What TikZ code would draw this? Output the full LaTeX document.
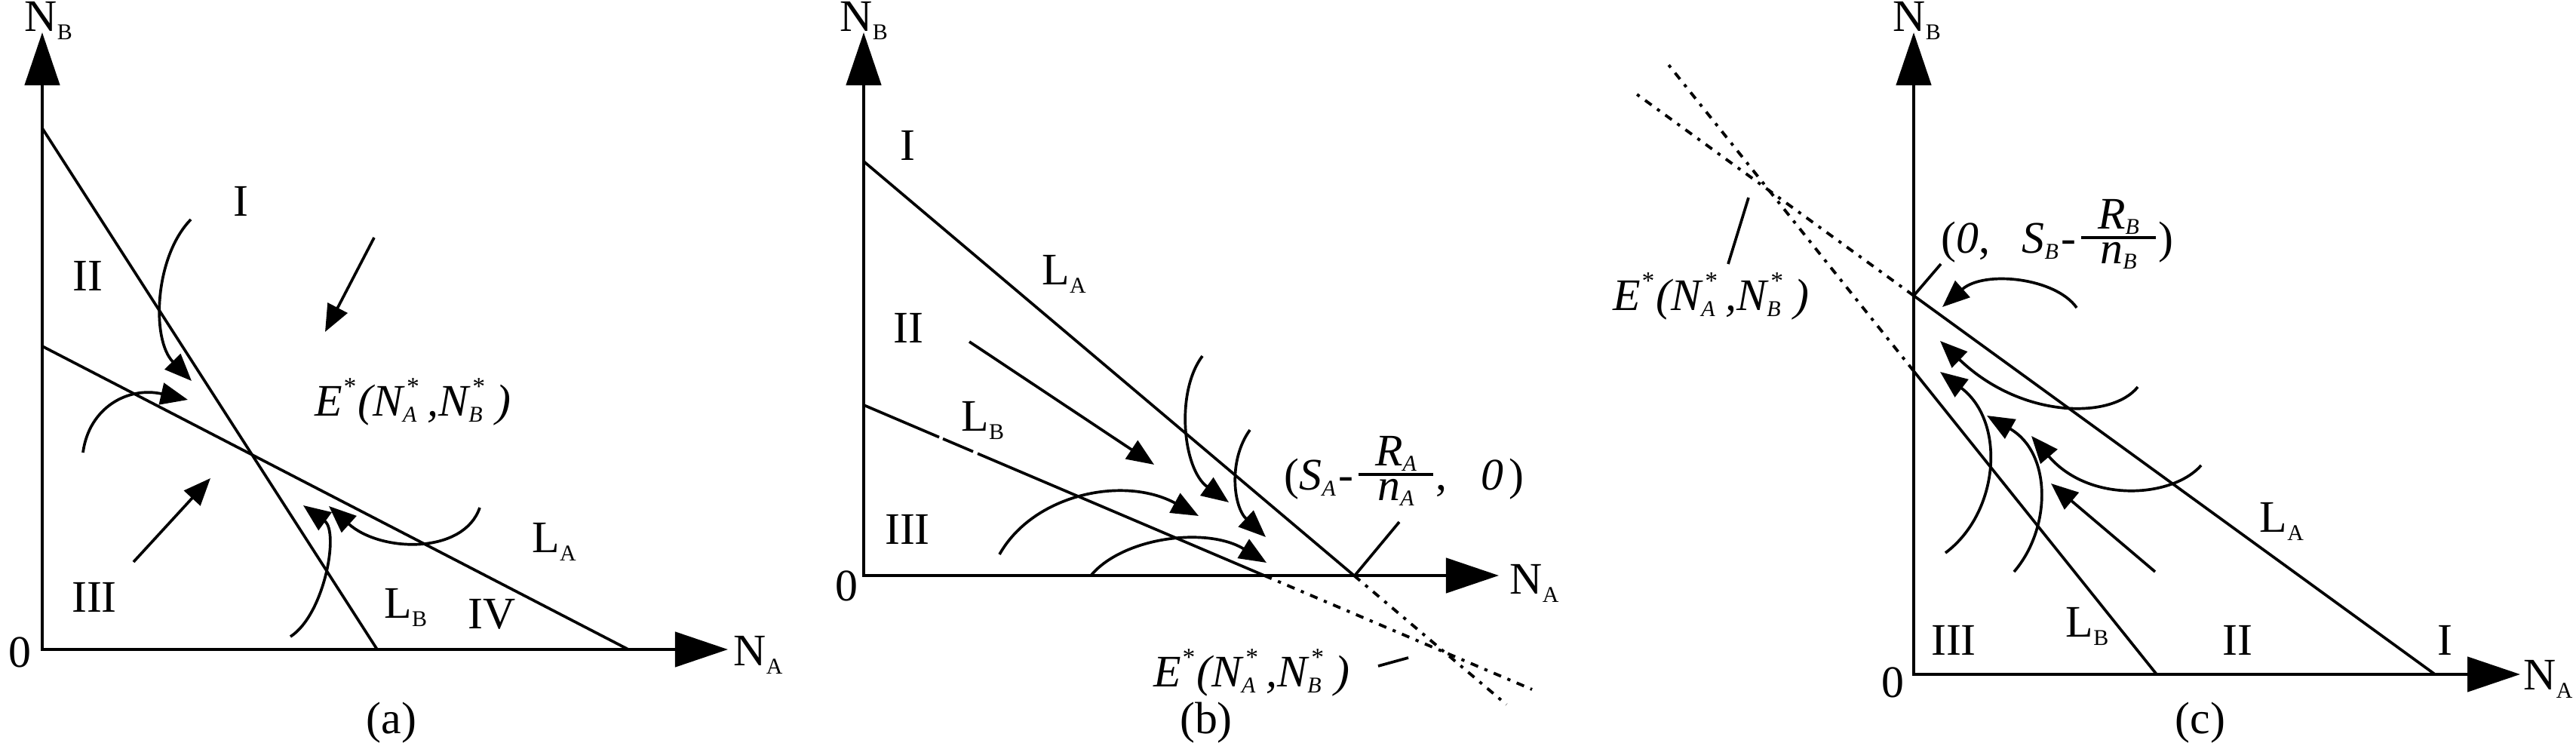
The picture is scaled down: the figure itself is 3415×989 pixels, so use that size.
\documentclass[tikz,border=0pt]{standalone}
\usepackage{fontspec}
\setmainfont{Liberation Serif}
\usetikzlibrary{arrows.meta}
\newcommand{\dsub}[1]{\raisebox{-3pt}{\fontsize{8.5}{10}\selectfont #1}}
\newcommand{\isub}[1]{\raisebox{-2pt}{\fontsize{8.5}{10}\selectfont\itshape #1}}
\newcommand{\isup}[1]{\raisebox{8pt}{\fontsize{9.5}{10}\selectfont #1}}
\newcommand{\supsub}[2]{\rlap{\kern1pt\isup{#1}}\isub{#2}}
\newcommand{\Elabel}{\itshape E\isup{*}\kern1pt(N\supsub{*}{A}\hspace{4pt},N\supsub{*}{B}\hspace{5pt})}
\newcommand{\myfrac}[2]{\raisebox{-3.7pt}{\vbox{\hbox to 28pt{\hss\itshape #1\hss}\kern0.8pt\hrule height 0.95pt\kern1.2pt\hbox to 28pt{\hss\itshape #2\hss}}}}
\begin{document}
\begin{tikzpicture}[x=0.01cm,y=-0.01cm,
  axis/.style={line width=1.3pt,{Triangle[length=7mm,width=4.6mm]}-{Triangle[length=7mm,width=4.6mm]}},
  curve/.style={line width=1.05pt},
  flow/.style={line width=1.05pt,-{Triangle[length=3.6mm,width=2.9mm]}},
  ext/.style={line width=1.1pt,dash pattern=on 3pt off 2.6pt on 1.2pt off 2.6pt},
  pointer/.style={line width=1.05pt},
  lbl/.style={font=\fontsize{17}{20}\selectfont,inner sep=0pt}]
\useasboundingbox (0,0) rectangle (3415,989);

% ================= panel (a) =================
\coordinate (Oa) at (56,861);
\coordinate (Ya) at (56,43);
\coordinate (Xa) at (965,861);
\draw[axis] (Ya) -- (Oa) -- (Xa);
\coordinate (LBa1) at (56,170);
\coordinate (LBa2) at (500,861);
\coordinate (LAa1) at (56,459);
\coordinate (LAa2) at (833,861);
\draw[curve] (LBa1) -- (LBa2);
\draw[curve] (LAa1) -- (LAa2);

\node[lbl,anchor=base west] (NBa) at (32,42) {N\dsub{B}};
\node[lbl,anchor=base west] (NAa) at (972,883) {N\dsub{A}};
\node[lbl,anchor=base] (Za) at (26,885) {0};
\node[lbl,anchor=base] (Ia) at (319,287) {I};
\node[lbl,anchor=base] (IIa) at (116,386) {II};
\node[lbl,anchor=base] (IIIa) at (125,812) {III};
\node[lbl,anchor=base] (IVa) at (652,834) {IV};
\node[lbl,anchor=base west] (LAla) at (705,733) {L\dsub{A}};
\node[lbl,anchor=base west] (LBla) at (509,820) {L\dsub{B}};
\node[lbl,anchor=base west] (Ea) at (417,552) {\Elabel};
\node[lbl,anchor=base] (capa) at (519,972) {(a)};

\coordinate (a1s) at (253,291);
\coordinate (a1e) at (254,505);
\draw[flow] (a1s) .. controls (205,340) and (200,450) .. (a1e);
\coordinate (a2s) at (496,315);
\coordinate (a2e) at (431,440);
\draw[flow] (a2s) -- (a2e);
\coordinate (a3s) at (110,600);
\coordinate (a3e) at (249,530);
\draw[flow] (a3s) .. controls (118,540) and (170,512) .. (a3e);
\coordinate (a4s) at (177,745);
\coordinate (a4e) at (279,634);
\draw[flow] (a4s) -- (a4e);
\coordinate (a5s) at (385,844);
\coordinate (a5e) at (402,670);
\draw[flow] (a5s) .. controls (430,815) and (450,705) .. (a5e);
\coordinate (a6s) at (636,673);
\coordinate (a6e) at (436,671);
\draw[flow] (a6s) .. controls (615,735) and (505,733) .. (a6e);

% ================= panel (b) =================
\coordinate (Ob) at (1145,763);
\coordinate (Yb) at (1145,43);
\coordinate (Xb) at (1987,763);
\draw[axis] (Yb) -- (Ob) -- (Xb);
\coordinate (LAb1) at (1145,214);
\coordinate (LAb2) at (1795,763);
\coordinate (LBb1) at (1145,537);
\coordinate (LBb2) at (1676,763);
\coordinate (gb1) at (1245,579.6);
\coordinate (gb2) at (1250,581.7);
\coordinate (gb3) at (1290,598.7);
\coordinate (gb4) at (1296,601.3);
\draw[curve] (LAb1) -- (LAb2);
\draw[curve] (LBb1) -- (gb1) (gb2) -- (gb3) (gb4) -- (LBb2);
\coordinate (LAb3) at (1997,934);
\coordinate (LBb3) at (2031,914);
\draw[ext] (LAb2) -- (LAb3);
\draw[ext] (LBb2) -- (LBb3);

\node[lbl,anchor=base west] (NBb) at (1113,42) {N\dsub{B}};
\node[lbl,anchor=base west] (NAb) at (2001,788) {N\dsub{A}};
\node[lbl,anchor=base] (Zb) at (1122,797) {0};
\node[lbl,anchor=base] (Ib) at (1203,213) {I};
\node[lbl,anchor=base] (IIb) at (1204,455) {II};
\node[lbl,anchor=base] (IIIb) at (1203,722) {III};
\node[lbl,anchor=base west] (LAlb) at (1381,378) {L\dsub{A}};
\node[lbl,anchor=base west] (LBlb) at (1274,572) {L\dsub{B}};
\node[lbl,anchor=base west] (Eb) at (1529,911) {\Elabel};
\node[lbl,anchor=base] (capb) at (1599,973) {(b)};
\node[lbl,anchor=base west] (SAb) at (1702,650)
  {(\textit{S}\isub{A}\kern1pt-\kern2pt\myfrac{R\isub{A}}{n\isub{A}}\kern1pt,\hspace{13pt}\textit{0}\kern2pt)};
\coordinate (pb1) at (1796,763);
\coordinate (pb2) at (1855,692);
\draw[pointer] (pb1) -- (pb2);
\coordinate (pb3) at (1827,883);
\coordinate (pb4) at (1867,872);
\draw[pointer] (pb3) -- (pb4);

\coordinate (b1s) at (1285,453);
\coordinate (b1e) at (1530,616);
\draw[flow] (b1s) -- (b1e);
\coordinate (b2s) at (1594,472);
\coordinate (b2e) at (1629,666);
\draw[flow] (b2s) .. controls (1558,520) and (1568,622) .. (b2e);
\coordinate (b3s) at (1657,570);
\coordinate (b3e) at (1678,712);
\draw[flow] (b3s) .. controls (1628,610) and (1635,672) .. (b3e);
\coordinate (b4s) at (1325,735);
\coordinate (b4e) at (1589,684);
\draw[flow] (b4s) .. controls (1370,655) and (1490,630) .. (b4e);
\coordinate (b5s) at (1447,762);
\coordinate (b5e) at (1679,746);
\draw[flow] (b5s) .. controls (1490,712) and (1600,698) .. (b5e);

% ================= panel (c) =================
\coordinate (Oc) at (2537,894);
\coordinate (Yc) at (2537,43);
\coordinate (Xc) at (3341,894);
\draw[axis] (Yc) -- (Oc) -- (Xc);
\coordinate (LAc1) at (2537,392);
\coordinate (LAc2) at (3228,894);
\coordinate (LBc1) at (2537,492);
\coordinate (LBc2) at (2859,894);
\draw[curve] (LAc1) -- (LAc2);
\draw[curve] (LBc1) -- (LBc2);
\coordinate (LAc3) at (2163,120);
\coordinate (LBc3) at (2212,86);
\draw[ext] (LAc1) -- (LAc3);
\draw[ext] (LBc1) -- (LBc3);

\node[lbl,anchor=base west] (NBc) at (2509,42) {N\dsub{B}};
\node[lbl,anchor=base west] (NAc) at (3345,915) {N\dsub{A}};
\node[lbl,anchor=base] (Zc) at (2509,925) {0};
\node[lbl,anchor=base] (IIIc) at (2590,869) {III};
\node[lbl,anchor=base] (IIc) at (2966,869) {II};
\node[lbl,anchor=base] (Ic) at (3241,869) {I};
\node[lbl,anchor=base west] (LAlc) at (2995,706) {L\dsub{A}};
\node[lbl,anchor=base west] (LBlc) at (2738,845) {L\dsub{B}};
\node[lbl,anchor=base west] (Ec) at (2138,412) {\Elabel};
\node[lbl,anchor=base] (capc) at (2917,973) {(c)};
\node[lbl,anchor=base west] (SBc) at (2573,336)
  {(\textit{0},\hspace{12pt}\textit{S}\isub{B}\kern1pt-\kern2pt\myfrac{R\isub{B}}{n\isub{B}}\kern1pt)};
\coordinate (pc1) at (2537,392);
\coordinate (pc2) at (2573,350);
\draw[pointer] (pc1) -- (pc2);
\coordinate (pc3) at (2318,262);
\coordinate (pc4) at (2291,350);
\draw[pointer] (pc3) -- (pc4);

\coordinate (c1s) at (2753,408);
\coordinate (c1e) at (2575,407);
\draw[flow] (c1s) .. controls (2725,368) and (2630,358) .. (c1e);
\coordinate (c2s) at (2834,513);
\coordinate (c2e) at (2572,452);
\draw[flow] (c2s) .. controls (2800,556) and (2680,556) .. (c2e);
\coordinate (c3s) at (2579,733);
\coordinate (c3e) at (2572,493);
\draw[flow] (c3s) .. controls (2650,680) and (2660,560) .. (c3e);
\coordinate (c4s) at (2670,758);
\coordinate (c4e) at (2634,551);
\draw[flow] (c4s) .. controls (2720,700) and (2720,600) .. (c4e);
\coordinate (c5s) at (2918,617);
\coordinate (c5e) at (2693,578);
\draw[flow] (c5s) .. controls (2880,660) and (2770,668) .. (c5e);
\coordinate (c6s) at (2857,758);
\coordinate (c6e) at (2719,641);
\draw[flow] (c6s) -- (c6e);
\end{tikzpicture}
\end{document}
